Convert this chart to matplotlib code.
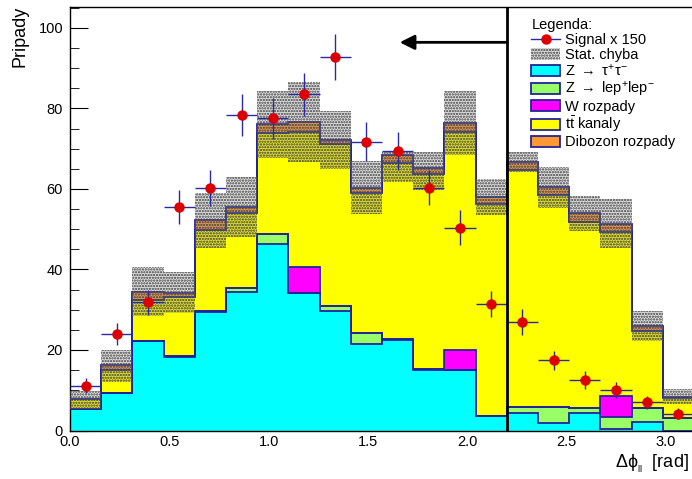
import numpy as np
import matplotlib
matplotlib.use("Agg")
import matplotlib.pyplot as plt
from matplotlib.lines import Line2D
from matplotlib.patches import Patch

plt.rcParams['font.family'] = ['Liberation Sans', 'DejaVu Sans']
plt.rcParams['mathtext.fontset'] = 'custom'
plt.rcParams['mathtext.rm'] = 'Liberation Sans'
plt.rcParams['mathtext.it'] = 'Liberation Sans'
plt.rcParams['mathtext.bf'] = 'Liberation Sans:bold'
plt.rcParams['hatch.linewidth'] = 1.1

# 20 bins in delta phi from 0 to pi
n_bins = 20
edges = np.linspace(0, np.pi, n_bins + 1)

# background components (stack order bottom -> top)
z_tautau = [5.3, 9.2, 22.2, 18.3, 29.4, 34.3, 46.2, 34.1, 29.7, 21.6,
            22.5, 15.0, 15.0, 3.6, 4.4, 1.8, 4.3, 0.3, 2.2, 0.0]
z_ll = [0.0, 0.1, 0.1, 0.1, 0.2, 1.0, 2.6, 0.0, 1.2, 2.5,
        0.2, 0.2, 0.0, 0.1, 1.5, 4.1, 1.2, 3.1, 3.5, 3.1]
w_decays = [0.0, 0.0, 0.0, 0.0, 0.0, 0.0, 0.0, 6.4, 0.0, 0.0,
            0.0, 0.0, 5.0, 0.0, 0.0, 0.0, 0.0, 5.2, 0.0, 0.0]
ttbar = [2.4, 5.7, 10.1, 14.8, 20.3, 18.6, 25.1, 33.7, 40.2, 34.9,
         43.8, 48.4, 54.2, 52.5, 58.8, 52.6, 46.3, 40.8, 19.1, 4.9]
diboson = [0.1, 1.3, 2.1, 0.9, 2.3, 1.5, 2.1, 2.5, 1.0, 1.3,
           1.9, 1.6, 2.1, 1.7, 1.9, 1.9, 2.1, 2.0, 1.1, 0.4]

# statistical error band (lower / upper edge)
band_lo = [5.3, 12.1, 28.4, 29.2, 45.3, 48.1, 67.6, 66.8, 64.9, 53.7,
           61.8, 59.7, 68.4, 53.5, 64.2, 55.3, 49.6, 45.2, 22.2, 6.6]
band_hi = [9.9, 20.0, 40.5, 39.4, 58.9, 62.9, 84.4, 86.6, 79.3, 67.0,
           69.2, 69.2, 84.4, 62.4, 69.1, 65.5, 58.2, 57.6, 29.7, 10.2]

# signal (scaled x150)
signal = [11.1, 24.0, 31.8, 55.6, 60.2, 78.3, 77.5, 83.5, 92.7, 71.7,
          69.5, 60.3, 50.4, 31.4, 26.9, 17.4, 12.6, 10.1, 7.0, 4.2]
signal_err = [1.9, 2.8, 3.1, 4.2, 4.5, 5.2, 5.0, 5.3, 5.7, 4.8,
              4.7, 4.4, 4.3, 3.3, 3.3, 2.4, 2.2, 2.0, 1.6, 1.3]

cut_value = 2.2
arrow_end = 1.66
arrow_y = 96.4

components = [
    (z_tautau, '#00ffff', r'Z $\rightarrow$ $\tau^{+}\tau^{-}$'),
    (z_ll, '#99ff66', r'Z $\rightarrow$ lep$^{+}$lep$^{-}$'),
    (w_decays, '#ff00ff', 'W rozpady'),
    (ttbar, '#ffff00', r't$\bar{\mathrm{t}}$ kanaly'),
    (diboson, '#ff9933', 'Dibozon rozpady'),
]
line_col = '#23239a'
band_face = (0.6, 0.6, 0.6, 0.3)
band_hatch = '#3c3c3c'

fig = plt.figure(figsize=(6.92, 4.79), dpi=100)
ax = fig.add_axes([70 / 692, 48.5 / 479, 624 / 692, 423.2 / 479])

bottom = np.zeros(n_bins)
for vals, col, lab in components:
    top = bottom + np.array(vals)
    ax.stairs(top, edges, baseline=bottom, fill=True, facecolor=col,
              edgecolor='none', zorder=2)
    bottom = top
# outlines of each layer
bottom = np.zeros(n_bins)
for vals, col, lab in components:
    top = bottom + np.array(vals)
    ax.stairs(top, edges, baseline=None, color=line_col, lw=1.3, zorder=3)
    bottom = top

# stat. error band
ax.stairs(band_hi, edges, baseline=band_lo, fill=True,
          facecolor=band_face, edgecolor=band_hatch,
          hatch='......', linewidth=0, zorder=4)

# signal points
centers = 0.5 * (edges[:-1] + edges[1:])
half_w = 0.5 * np.diff(edges)
ax.errorbar(centers, signal, xerr=half_w, yerr=signal_err, fmt='o',
            ms=6.5, mfc='#dd0000', mec='#dd0000', ecolor='#2a2aa0',
            elinewidth=1.0, capsize=0, zorder=6)

# cut line and arrow
ax.axvline(cut_value, color='black', lw=2, zorder=7)
ax.annotate('', xy=(arrow_end, arrow_y), xytext=(cut_value, arrow_y),
            arrowprops=dict(arrowstyle='-|>', color='black', lw=2,
                            mutation_scale=22, shrinkA=0, shrinkB=0),
            zorder=8)

ax.set_xlim(0, np.pi)
ax.set_ylim(0, 105.1)
ax.set_xticks(np.arange(0, 3.01, 0.5))
ax.set_xticks(np.arange(0, 3.15, 0.1), minor=True)
ax.set_yticks(np.arange(0, 101, 20))
ax.set_yticks(np.arange(0, 106, 5), minor=True)
ax.set_xticklabels(['0.0', '0.5', '1.0', '1.5', '2.0', '2.5', '3.0'])
ax.tick_params(axis='both', which='both', direction='in', labelsize=10.5,
               top=False, right=False, color='black')
ax.tick_params(axis='y', which='major', length=13, pad=5)
ax.tick_params(axis='y', which='minor', length=6.5)
ax.tick_params(axis='x', which='major', length=7.7, pad=3.5)
ax.tick_params(axis='x', which='minor', length=3.6)
for s in ax.spines.values():
    s.set_linewidth(1.0)

fig.text(20 / 692, 1 - 6 / 479, 'Pripady', rotation=90, ha='center',
         va='top', fontsize=13)
fig.text(689 / 692, 1 - 468 / 479, r'$\Delta\phi_{_{ll}}$  [rad]',
         ha='right', va='baseline', fontsize=13)

# legend
handles = [Line2D([], [], color='#2a2aa0', lw=1, marker='o', ms=6.5,
                  mfc='#dd0000', mec='#dd0000')]
labels = ['Signal x 150']
handles.append(Patch(facecolor=band_face, edgecolor=band_hatch,
                     hatch='......', linewidth=0))
labels.append('Stat. chyba')
for vals, col, lab in components:
    handles.append(Patch(facecolor=col, edgecolor=line_col, linewidth=1.3))
    labels.append(lab)
leg = fig.legend(handles, labels, title='Legenda:', loc='upper left',
                 bbox_to_anchor=(524 / 692, 1 - 11 / 479), frameon=False,
                 fontsize=10.5, title_fontsize=10.5, handlelength=2.0,
                 handleheight=0.8, handletextpad=0.3, labelspacing=0.06,
                 borderpad=0, alignment='left')
leg.set_zorder(10)

fig.savefig('out.png', dpi=100)
